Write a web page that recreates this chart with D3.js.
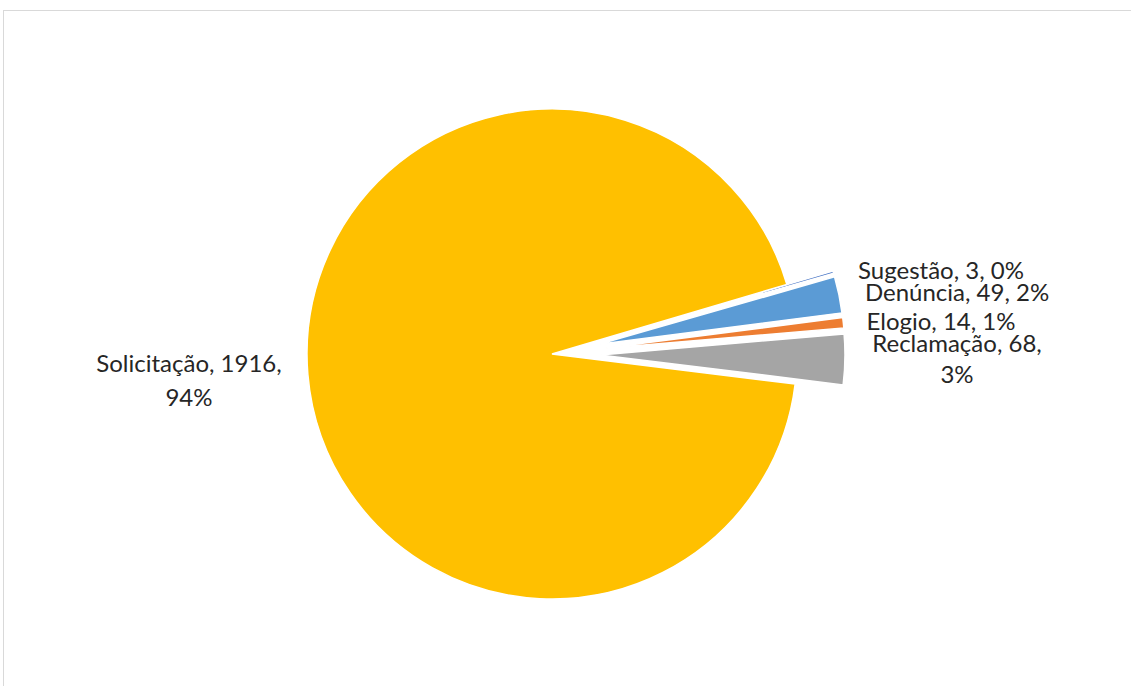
<!DOCTYPE html>
<html>
<head>
<meta charset="utf-8">
<script src="https://cdn.jsdelivr.net/npm/d3@7"></script>
<style>
	body { margin: 0; background: #fff; }
	svg { display: block; }
	text { font-family: Lato, "Open Sans", sans-serif; fill: #262626; }
</style>
</head>
<body>
<div id="chart"></div>
<script>
// chart data, clockwise order as drawn
const categories = ["Sugestão", "Denúncia", "Elogio", "Reclamação", "Solicitação"];
const values = [3, 49, 14, 68, 1916];
const percents = ["0%", "2%", "1%", "3%", "94%"];
const colors = ["#4472C4", "#5B9BD5", "#ED7D31", "#A5A5A5", "#FFC000"];
const exploded = [true, true, true, true, false];

// where Excel wrapped the label (after the value)
const wrapped = [false, false, false, true, true];
// label anchor positions (center x, first baseline) and line gap
const labelPos = [[941, 279], [957, 301], [941, 330], [957, 352], [189, 372]];
const lineGap = [0, 0, 0, 31, 34];

const width = 1131;
const height = 686;
const cx = 552, cy = 354, radius = 245, explode = 48;

const svg = d3.select("#chart").append("svg")
	.attr("width", width)
	.attr("height", height);

//chart area border
svg.append("rect")
	.attr("x", 3.5).attr("y", 10.5)
	.attr("width", width + 10).attr("height", height)
	.attr("fill", "none")
	.attr("stroke", "#d9d9d9")
	.attr("stroke-width", 1);

const data = categories.map((c, i) => ({ name: c, value: values[i], i: i }));

//first slice starts ~73.5 degrees clockwise from top
const pie = d3.pie()
	.sort(null)
	.value(d => d.value)
	.startAngle(73.5 * Math.PI / 180)
	.endAngle(73.5 * Math.PI / 180 + 2 * Math.PI);

const arc = d3.arc().innerRadius(0).outerRadius(radius);

const g = svg.append("g").attr("transform", `translate(${cx},${cy})`);

g.selectAll("path")
	.data(pie(data))
	.enter()
	.append("path")
		.attr("d", arc)
		.attr("fill", d => colors[d.data.i])
		.attr("stroke", "#fff")
		.attr("stroke-width", 1.5)
		.attr("transform", function(d) {
			if (!exploded[d.data.i]) return null;
			let mid = (d.startAngle + d.endAngle) / 2;
			return `translate(${explode * Math.sin(mid)},${-explode * Math.cos(mid)})`;
		});

//data labels: "name, value, percent"
const labelLines = data.map((d, i) => {
	if (wrapped[i]) return [`${d.name}, ${d.value},`, percents[i]];
	return [`${d.name}, ${d.value}, ${percents[i]}`];
});

const labels = svg.selectAll("text.label")
	.data(labelLines)
	.enter()
	.append("text")
		.attr("class", "label")
		.attr("text-anchor", "middle")
		.attr("font-size", "24px")
		.attr("x", (d, i) => labelPos[i][0])
		.attr("y", (d, i) => labelPos[i][1]);

labels.selectAll("tspan")
	.data((d, i) => d.map(line => ({ line: line, x: labelPos[i][0], gap: lineGap[i] })))
	.enter()
	.append("tspan")
		.attr("x", d => d.x)
		.attr("dy", (d, j) => j == 0 ? 0 : d.gap)
		.text(d => d.line);
</script>
</body>
</html>
